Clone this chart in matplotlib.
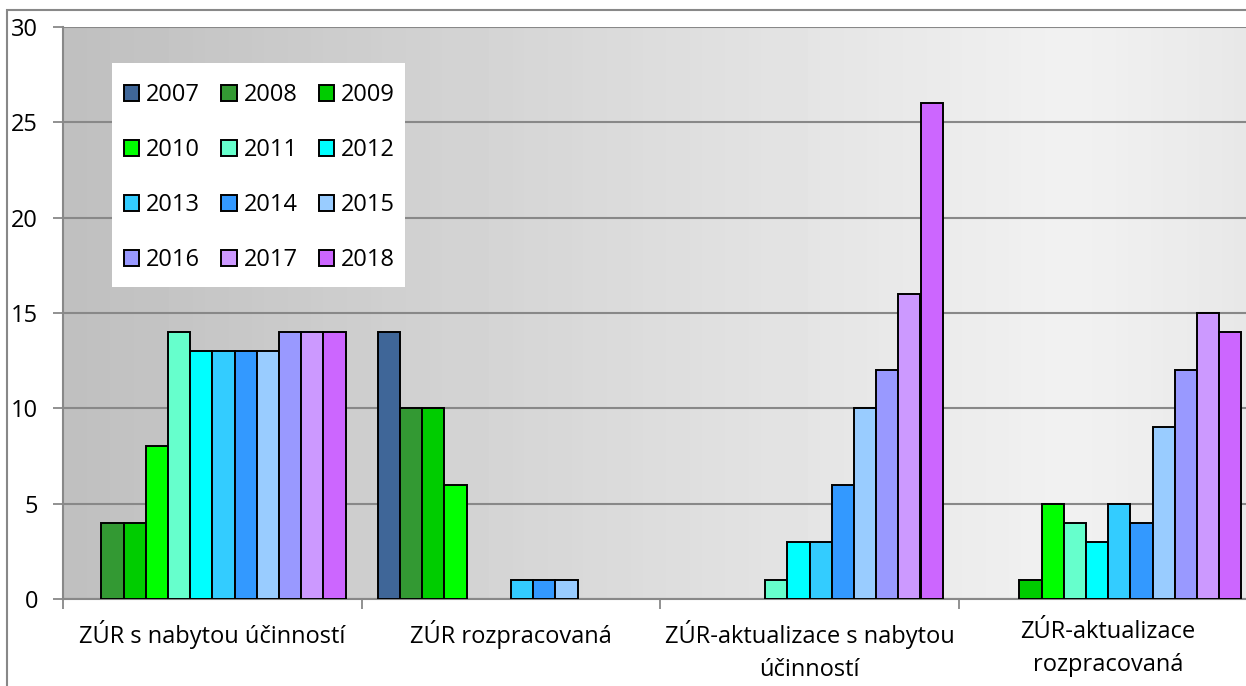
import matplotlib
matplotlib.use('Agg')
import matplotlib.pyplot as plt
import numpy as np
from matplotlib.patches import Rectangle

W, H = 1246, 686

categories = ['ZÚR s nabytou účinností', 'ZÚR rozpracovaná',
              'ZÚR-aktualizace s nabytou\núčinností', 'ZÚR-aktualizace\nrozpracovaná']
years = ['2007', '2008', '2009', '2010', '2011', '2012',
         '2013', '2014', '2015', '2016', '2017', '2018']

# one list per year, values for the 4 categories
v2007 = [0, 14, 0, 0]
v2008 = [4, 10, 0, 0]
v2009 = [4, 10, 0, 1]
v2010 = [8, 6, 0, 5]
v2011 = [14, 0, 1, 4]
v2012 = [13, 0, 3, 3]
v2013 = [13, 1, 3, 5]
v2014 = [13, 1, 6, 4]
v2015 = [13, 1, 10, 9]
v2016 = [14, 0, 12, 12]
v2017 = [14, 0, 16, 15]
v2018 = [14, 0, 26, 14]
values = [v2007, v2008, v2009, v2010, v2011, v2012,
          v2013, v2014, v2015, v2016, v2017, v2018]

colors = ['#3f6698', '#339933', '#00cc00', '#00ff00', '#66ffcc', '#00ffff',
          '#33ccff', '#3399ff', '#99ccff', '#9999ff', '#cc99ff', '#cc66ff']

plt.rcParams['font.family'] = ['Open Sans', 'DejaVu Sans']
FS = 17

fig = plt.figure(figsize=(W / 100, H / 100), dpi=100)
fig.patch.set_facecolor('white')

# outer chart border (cropped on right/bottom)
fig.add_artist(Rectangle((7 / W, -0.1), 1.2, (H - 10) / H + 0.1,
                         transform=fig.transFigure, fill=False,
                         edgecolor='#888888', linewidth=1.5))

left, right, top, bottom = 63, 1246, 27, 599
G = 298.6  # px per category
ax = fig.add_axes([left / W, (H - bottom) / H, (right - left) / W, (bottom - top) / H])
x_right = -0.5 + (right - left) / G

# background gradient
grad = np.concatenate([np.linspace(0.75, 0.945, 85), np.linspace(0.945, 0.91, 15)])
ax.imshow(np.tile(grad, (2, 1)), cmap='gray', vmin=0, vmax=1, aspect='auto',
          extent=[-0.5, x_right, 0, 30], zorder=0)

bw = 22.2 / G
x = np.arange(len(categories))
for j, (yr, vals) in enumerate(zip(years, values)):
    vals = np.array(vals, dtype=float)
    keep = vals > 0
    ax.bar((x + (j - 5.5) * bw)[keep], vals[keep], width=bw, color=colors[j],
           edgecolor='black', linewidth=1.4, label=yr, zorder=3)

ax.set_yticks(np.arange(0, 31, 5))
ax.yaxis.grid(True, color='#888888', linewidth=1.5, zorder=1)
ax.set_axisbelow(True)

ax.set_xticks(x)
ax.set_xticklabels(categories, fontsize=FS, linespacing=1.5)
ax.set_xticks(np.arange(-0.5, 3, 1), minor=True)
ax.tick_params(axis='x', which='major', length=0, pad=15)
ax.tick_params(axis='x', which='minor', length=7, width=1.3, color='#888888')
ax.tick_params(axis='y', length=7, width=1.3, color='#888888', labelsize=FS, pad=11)

# limits last, so tick setting can't widen them
ax.set_xlim(-0.5, x_right)
ax.set_ylim(0, 30)

for s in ['top', 'right']:
    ax.spines[s].set_visible(False)
for s in ['left', 'bottom']:
    ax.spines[s].set_color('#888888')
    ax.spines[s].set_linewidth(1.5)

# white legend box
ax.add_patch(Rectangle((112 / W, (H - 287) / H), (405 - 112) / W, (287 - 63) / H,
                       transform=fig.transFigure, facecolor='white',
                       edgecolor='none', zorder=4, clip_on=False))

handles, labels = ax.get_legend_handles_labels()
order = [0, 3, 6, 9, 1, 4, 7, 10, 2, 5, 8, 11]
leg = ax.legend([handles[i] for i in order], [labels[i] for i in order],
                ncol=3, loc='upper left',
                bbox_to_anchor=(124 / W, (H - 83) / H), bbox_transform=fig.transFigure,
                fontsize=FS, frameon=False, handlelength=0.64, handleheight=0.64,
                handletextpad=0.3, columnspacing=0.9, labelspacing=1.32,
                borderpad=0, borderaxespad=0)
leg.set_zorder(5)

fig.savefig('out.png', dpi=100)
